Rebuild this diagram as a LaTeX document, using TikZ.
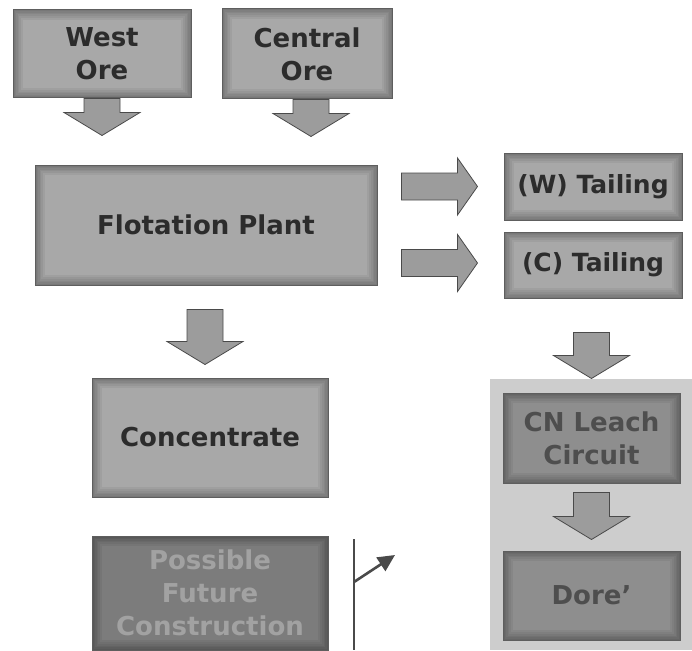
\documentclass[tikz,border=0pt]{standalone}
\usepackage{fontspec}
\setmainfont{DejaVu Sans}
\usetikzlibrary{arrows.meta,positioning}
\definecolor{boxgray}{HTML}{A8A8A8}
\definecolor{boxedge}{HTML}{5E5E5E}
\definecolor{boxtext}{HTML}{2C2C2C}
\definecolor{futuregray}{HTML}{7C7C7C}
\definecolor{futuretext}{HTML}{A2A2A2}
\definecolor{leachgray}{HTML}{8E8E8E}
\definecolor{leachtext}{HTML}{4E4E4E}
\definecolor{panelgray}{HTML}{CDCDCD}
\definecolor{arrowfill}{HTML}{9C9C9C}
\definecolor{arrowedge}{HTML}{4A4A4A}
\tikzset{
  stagebox/.style={rectangle, fill=boxgray, draw=boxedge, line width=1pt,
    text=boxtext, font=\fontsize{26}{33}\selectfont\bfseries, align=center,
    inner sep=0pt,
    path picture={
      \foreach \w in {20,16,12,9,6,3}
        \draw[line width=\w pt, black, opacity=.05]
          (path picture bounding box.south west) rectangle (path picture bounding box.north east);}},
  futurebox/.style={stagebox, fill=futuregray, text=futuretext},
  leachbox/.style={stagebox, fill=leachgray, text=leachtext},
  blockarrow/.style={fill=arrowfill, draw=arrowedge, line width=.8pt, line join=miter},
  pics/downarr/.style={code={
    \path[blockarrow] (-18,-#1) -- (18,-#1) -- (18,-23) -- (38,-23) -- (0,0)
      -- (-38,-23) -- (-18,-23) -- cycle;}},
  pics/rightarr/.style={code={
    \path[blockarrow] (-#1,-13.5) -- (-20,-13.5) -- (-20,-28.5) -- (0,0)
      -- (-20,28.5) -- (-20,13.5) -- (-#1,13.5) -- cycle;}}
}

\begin{document}
\begin{tikzpicture}[x=1pt, y=-1pt]
  \useasboundingbox (0,0) rectangle (692,650);

  % backdrop of the cyanide circuit
  \fill[panelgray] (490,379) rectangle (692,650);

  % process boxes
  \node[stagebox, minimum width=178pt, minimum height=88pt]  (west)    at (102,54)    {West\\Ore};
  \node[stagebox, minimum width=170pt, minimum height=90pt]  (central) at (307,54)    {Central\\Ore};
  \node[stagebox, minimum width=342pt, minimum height=120pt] (flot)    at (206,225)   {Flotation Plant};
  \node[stagebox, minimum width=178pt, minimum height=67pt,
        font=\fontsize{25}{30}\selectfont\bfseries]           (wtail)   at (593,186.5) {(W) Tailing};
  \node[stagebox, minimum width=178pt, minimum height=66pt,
        font=\fontsize{25}{30}\selectfont\bfseries]           (ctail)   at (593,265)   {(C) Tailing};
  \node[stagebox, minimum width=236pt, minimum height=119pt] (conc)    at (210,437.5) {Concentrate};
  \node[futurebox, minimum width=236pt, minimum height=114pt] (future) at (210,593)   {Possible\\Future\\Construction};
  \node[leachbox, minimum width=177pt, minimum height=90pt]   (leach)   at (591.5,438) {CN Leach\\Circuit};
  \node[leachbox, minimum width=177pt, minimum height=89pt]   (dore)    at (591.5,595.5) {Dore'};

  % flow arrows
  \pic at ([yshift=-37pt]west.south)    {downarr=37};
  \pic at ([yshift=-37pt,xshift=4pt]central.south) {downarr=37};
  \pic at ([yshift=13pt,xshift=-5pt]conc.north) {downarr=55};
  \pic at ([yshift=14pt]leach.north)    {downarr=46};
  \pic at ([yshift=11pt]dore.north)     {downarr=47};
  \pic at ([xshift=-26pt]wtail.west)    {rightarr=76};
  \pic at ([xshift=-26pt,yshift=2pt]ctail.west) {rightarr=76};

  % legend mark
  \coordinate (mast top) at (354,539);
  \coordinate (mast foot) at (354,650);
  \coordinate (mast mid) at (354,582);
  \coordinate (flag tip) at (395,555);
  \draw[line width=2pt, arrowedge] (mast top) -- (mast foot);
  \draw[line width=2.6pt, arrowedge, -{Triangle[length=17pt,width=16pt]}] (mast mid) -- (flag tip);
\end{tikzpicture}
\end{document}
